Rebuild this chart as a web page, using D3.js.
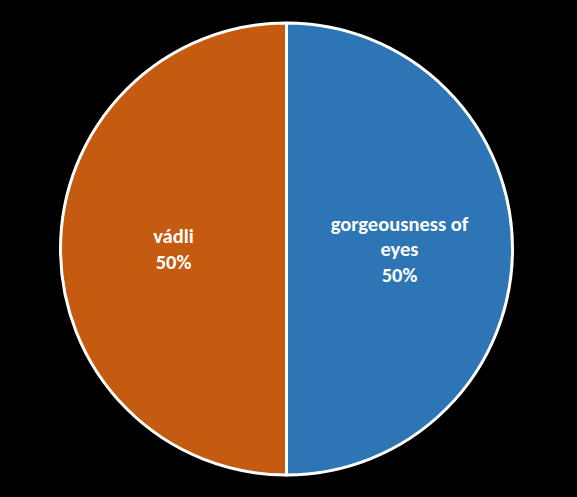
<!DOCTYPE html>
<html><head><meta charset="utf-8">
<script src="https://cdn.jsdelivr.net/npm/d3@7"></script>
<style>html,body{margin:0;padding:0;background:#000;}</style>
</head><body>
<svg id="c" width="577" height="497"></svg>
<script>
const categories = ["gorgeousness of eyes", "vádli"];
const values = [50, 50];
const colors = ["#2E75B6", "#C55A11"];
const labelLines = [["gorgeousness of", "eyes"], ["vádli"]];

const svg = d3.select("#c");
const W = 577, H = 497;
svg.append("rect").attr("width", W).attr("height", H).attr("fill", "#000");
const cx = 286.5, cy = 249, r = 226;
const g = svg.append("g").attr("transform", `translate(${cx},${cy})`);
const total = d3.sum(values);
const pie = d3.pie().sort(null).value(d => d.v);
const data = pie(categories.map((c, i) => ({c, v: values[i], i})));
const arc = d3.arc().innerRadius(0).outerRadius(r);
g.selectAll("path").data(data).join("path")
  .attr("d", arc)
  .attr("fill", d => colors[d.data.i])
  .attr("stroke", "#fff").attr("stroke-width", 3).attr("stroke-linejoin", "round");
const lh = 25.5;
data.forEach(d => {
  const [x, y] = arc.centroid(d);
  const lines = labelLines[d.data.i].concat([Math.round(d.data.v / total * 100) + "%"]);
  const t = g.append("text").attr("text-anchor", "middle")
    .attr("font-family", "Carlito, 'Open Sans', 'Liberation Sans', sans-serif")
    .attr("font-weight", "bold").attr("font-size", 20.5).attr("fill", "#fff");
  const y0 = y - (lines.length - 1) * lh / 2;
  lines.forEach((l, k) => {
    t.append("tspan").attr("x", x).attr("y", y0 + k * lh).attr("dy", "0.35em").text(l);
  });
});
</script>
</body></html>
